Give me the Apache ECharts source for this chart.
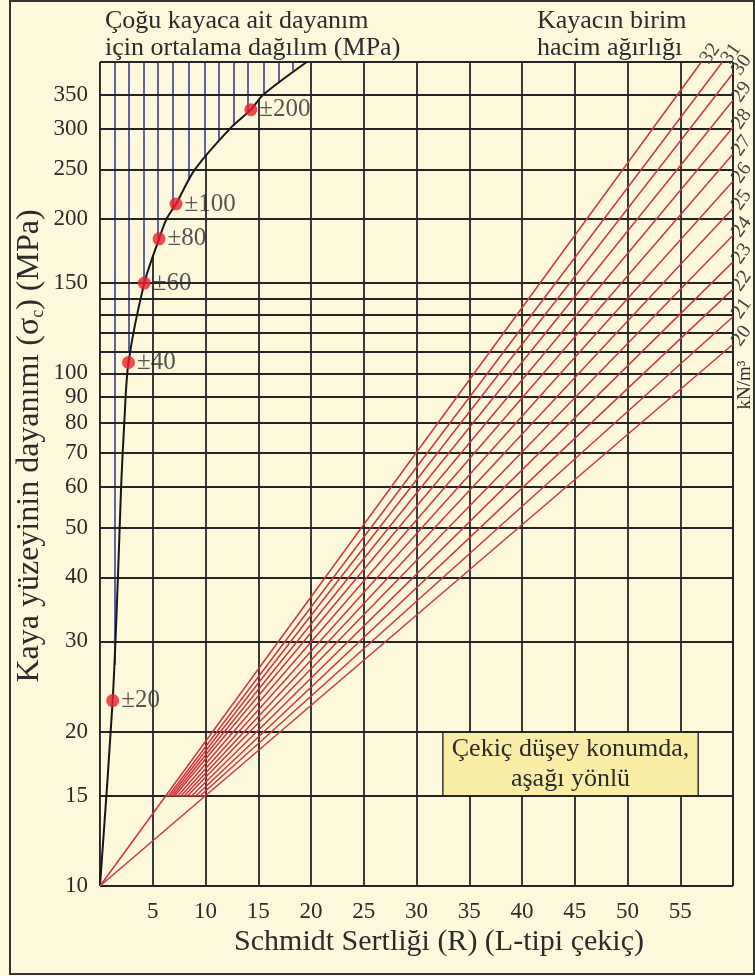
<!DOCTYPE html>
<html>
<head>
<meta charset="utf-8">
<script src="https://cdn.jsdelivr.net/npm/echarts@6/dist/echarts.min.js"></script>
<style>
html,body{margin:0;padding:0;background:#fdf8dc;}
#c{width:755px;height:976px;}
</style>
</head>
<body>
<div id="c"></div>
<script>
// ---------- data ----------
const xTicks = [5, 10, 15, 20, 25, 30, 35, 40, 45, 50, 55];
const yLabelValues = [10, 15, 20, 30, 40, 50, 60, 70, 80, 90, 100, 150, 200, 250, 300, 350];
const yGridValues = [15, 20, 30, 40, 50, 60, 70, 80, 90, 100, 110, 120, 130, 140, 150, 200, 250, 300, 350];

// mean strength curve (R, sigma_c MPa)
const curveR = [0, 1.2, 1.7, 2.0, 2.3, 2.7, 4.2, 5.6, 6.3, 7.2, 9.0, 12.3, 14.3, 15.5, 19.6];
const curveS = [10, 23, 40, 60, 80, 105, 150, 183, 200, 214, 250, 300, 327, 350, 405];

// red dots with scatter labels
const pointR = [1.2, 2.7, 4.2, 5.6, 7.2, 14.3];
const pointS = [23, 105, 150, 183, 214, 327];
const pointLabels = ['±20', '±40', '±60', '±80', '±100', '±200'];

// blue hatch lines (R, lower end on the curve)
const hatchR = [1.42, 2.75, 4.17, 5.5, 6.9, 8.4, 9.9, 11.3, 12.7, 14.0, 15.5, 16.9, 18.3];
const hatchBottom = [27, 110, 150, 183, 210, 238, 263, 285, 304, 323, 350, 368, 390];

// unit weight lines (kN/m3)
const unitWeights = [20, 21, 22, 23, 24, 25, 26, 27, 28, 29, 30, 31, 32];
const lineStartR = [0, 9.5, 9.1, 8.7, 8.3, 8.0, 7.7, 7.4, 7.1, 6.9, 6.7, 6.5, 0];
const lineStartS = [10, 15, 15, 15, 15, 15, 15, 15, 15, 15, 15, 15, 10];
const lineEndR = [60, 60, 60, 60, 60, 60, 60, 60, 60, 60, 60, 59, 57];
const lineEndS = [114, 129, 146, 165, 186, 210, 237, 268, 302, 341, 385, 405, 405];
const redBaseR = [6.2, 10.0];
const redBaseS = [15, 15];

// note box (R range, sigma range)
const boxR = [32.5, 56.7];
const boxS = [15, 20];

const Y_MIN = 10, Y_MAX = 405, X_MIN = 0, X_MAX = 60;

// ---------- chart ----------
const FONT = '"Liberation Serif","Times New Roman",serif';
const BG = '#fdf8dc';
const INK = '#2b2b2b';
const GRID = '#242424';
const RED = '#d0333d';

const chart = echarts.init(document.getElementById('c'), null, {renderer: 'canvas'});

const hgridData = yGridValues.map(v => ({
  yAxis: v,
  label: {show: yLabelValues.includes(v), position: 'start', formatter: String(v)}
}));
hgridData.push({yAxis: Y_MIN, label: {show: true, position: 'start', formatter: String(Y_MIN)}});
hgridData.push({yAxis: Y_MAX, label: {show: false}});
hgridData.push({xAxis: X_MIN, label: {show: false}});
hgridData.push({xAxis: X_MAX, label: {show: false}});

const redSeries = unitWeights.map((w, i) => ({
  name: String(w),
  type: 'line',
  data: [[lineStartR[i], lineStartS[i]], [lineEndR[i], lineEndS[i]]],
  symbol: 'none',
  silent: true,
  lineStyle: {color: RED, width: 1.5},
  z: 6,
  endLabel: {
    show: true, formatter: '{a}', rotate: 55, distance: 3,
    fontSize: 20, color: '#444', fontFamily: FONT
  }
}));

const option = {
  animation: false,
  backgroundColor: BG,
  grid: {left: 100, right: 22, top: 62, bottom: 90, containLabel: false},
  xAxis: {
    type: 'value', min: X_MIN, max: X_MAX, interval: 5,
    axisLine: {show: false}, axisTick: {show: false},
    axisLabel: {
      fontSize: 23, color: INK, fontFamily: FONT, margin: 14,
      formatter: v => (xTicks.includes(v) ? String(v) : '')
    },
    splitLine: {show: true, lineStyle: {color: GRID, width: 1.8}}
  },
  yAxis: {
    type: 'log', logBase: 10, min: Y_MIN, max: Y_MAX,
    axisLine: {show: false}, axisTick: {show: false},
    axisLabel: {show: false}, splitLine: {show: false}
  },
  series: [
    {
      name: 'mask', type: 'line', silent: true,
      data: curveR.map((r, i) => [r, curveS[i]]),
      smooth: 0.3, symbol: 'none',
      lineStyle: {width: 0},
      areaStyle: {color: BG, opacity: 1, origin: 'end'},
      z: 2
    },
    {
      name: 'hatch', type: 'line', data: [], z: 3,
      markLine: {
        silent: true, symbol: ['none', 'none'], label: {show: false},
        lineStyle: {color: '#3b3b98', width: 1.6, type: 'solid'},
        data: hatchR.map((r, i) => [{coord: [r, hatchBottom[i]]}, {coord: [r, Y_MAX]}])
      }
    },
    {
      name: 'hgrid', type: 'line', data: [], z: 4,
      markLine: {
        silent: true, symbol: ['none', 'none'],
        lineStyle: {color: GRID, width: 1.8, type: 'solid'},
        label: {distance: 12, fontSize: 23, color: INK, fontFamily: FONT},
        data: hgridData
      }
    },
    {
      name: 'curve', type: 'line', silent: true,
      data: curveR.map((r, i) => [r, curveS[i]]),
      smooth: 0.3, symbol: 'none',
      lineStyle: {color: '#161616', width: 2},
      z: 5
    },
    ...redSeries,
    {
      name: 'base', type: 'line', silent: true,
      data: redBaseR.map((r, i) => [r, redBaseS[i]]),
      symbol: 'none', lineStyle: {color: RED, width: 1.5}, z: 6
    },
    {
      name: 'box', type: 'line', data: [], z: 7,
      markArea: {
        silent: true,
        itemStyle: {color: '#faeea6', borderColor: '#333', borderWidth: 1.5},
        label: {
          show: true, position: 'inside',
          formatter: 'Çekiç düşey konumda,\naşağı yönlü',
          fontSize: 26, lineHeight: 30, color: INK, fontFamily: FONT
        },
        data: [[{coord: [boxR[0], boxS[1]]}, {coord: [boxR[1], boxS[0]]}]]
      }
    },
    {
      name: 'points', type: 'scatter', silent: true,
      data: pointR.map((r, i) => [r, pointS[i]]),
      symbolSize: 13,
      itemStyle: {color: '#e8202a'},
      label: {
        show: true, position: 'right', distance: 2,
        formatter: p => pointLabels[p.dataIndex],
        fontSize: 25, color: INK, fontFamily: FONT
      },
      z: 8
    }
  ],
  graphic: [
    {type: 'rect', shape: {x: 10, y: 1, width: 744, height: 973},
     style: {fill: 'none', stroke: '#333', lineWidth: 2}, z: 100},
    {type: 'text', x: 105, y: 21,
     style: {text: 'Çoğu kayaca ait dayanım', fontSize: 26, fontFamily: FONT, fill: INK,
             textAlign: 'left', textVerticalAlign: 'middle', align: 'left', verticalAlign: 'middle'}},
    {type: 'text', x: 105, y: 48,
     style: {text: 'için ortalama dağılım (MPa)', fontSize: 26, fontFamily: FONT, fill: INK,
             textAlign: 'left', textVerticalAlign: 'middle', align: 'left', verticalAlign: 'middle'}},
    {type: 'text', x: 537, y: 21,
     style: {text: 'Kayacın birim', fontSize: 26, fontFamily: FONT, fill: INK,
             textAlign: 'left', textVerticalAlign: 'middle', align: 'left', verticalAlign: 'middle'}},
    {type: 'text', x: 537, y: 48,
     style: {text: 'hacim ağırlığı', fontSize: 26, fontFamily: FONT, fill: INK,
             textAlign: 'left', textVerticalAlign: 'middle', align: 'left', verticalAlign: 'middle'}},
    {type: 'text', x: 439, y: 942,
     style: {text: 'Schmidt Sertliği (R) (L-tipi çekiç)', fontSize: 30, fontFamily: FONT, fill: INK,
             textAlign: 'center', textVerticalAlign: 'middle', align: 'center', verticalAlign: 'middle'}},
    {type: 'text', x: 30, y: 446, rotation: Math.PI / 2,
     style: {text: 'Kaya yüzeyinin dayanımı (σ{s|c}) (MPa)', fontSize: 32, fontFamily: FONT, fill: INK,
             textAlign: 'center', textVerticalAlign: 'middle', align: 'center', verticalAlign: 'middle',
             rich: {s: {fontSize: 18, fontFamily: FONT, fill: INK, verticalAlign: 'bottom', padding: [16, 0, 0, 0]}}}},
    {type: 'text', x: 745, y: 385, rotation: Math.PI / 2,
     style: {text: 'kN/m³', fontSize: 19, fontFamily: FONT, fill: INK,
             textAlign: 'center', textVerticalAlign: 'middle', align: 'center', verticalAlign: 'middle'}}
  ]
};

chart.setOption(option);
</script>
</body>
</html>
